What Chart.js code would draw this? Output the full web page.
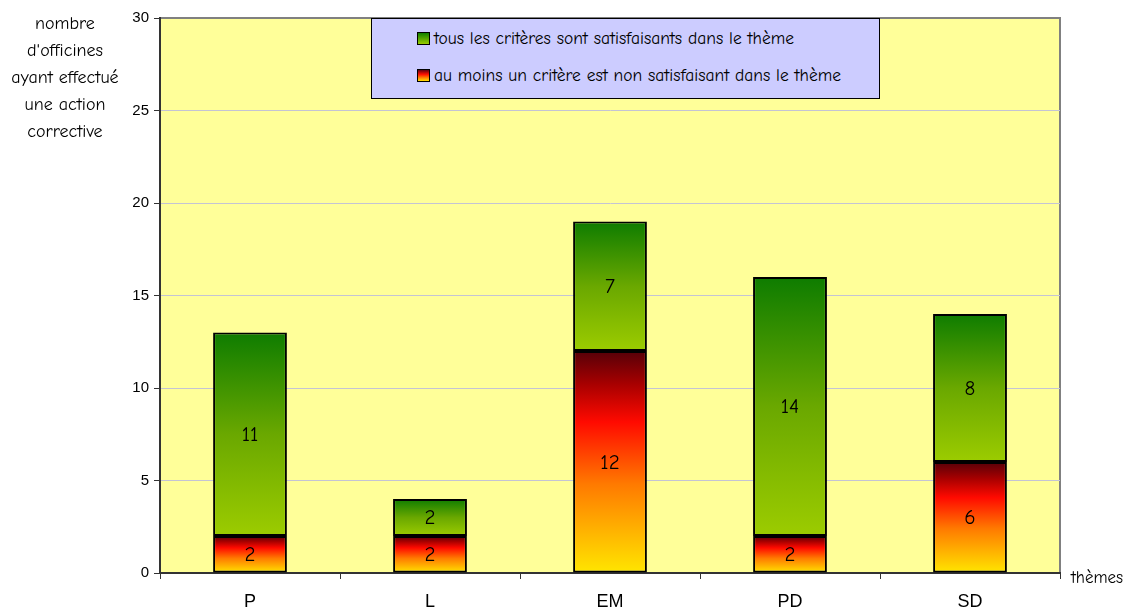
<!DOCTYPE html>
<html lang="fr">
<head>
<meta charset="utf-8">
<title>Actions correctives par thème</title>
<script src="https://cdn.jsdelivr.net/npm/chart.js@4/dist/chart.umd.min.js"></script>
<style>
  html, body { margin: 0; padding: 0; background: #ffffff; }
  #wrap { position: relative; width: 1127px; height: 611px; overflow: hidden; }
  #chart { position: absolute; left: 0; top: 0; }
  .comic { font-family: 'Comic Sans MS', 'Comic Neue', 'DejaVu Sans', sans-serif; color: #000; }
  #ytitle { position: absolute; left: 0; top: 10px; width: 130px; text-align: center; font-size: 18px; line-height: 27px; }
  #xtitle { position: absolute; left: 1071px; top: 568px; font-size: 17px; }
  #legend { position: absolute; left: 371px; top: 18px; width: 509px; height: 81px; background: #ccccff; border: 1px solid #000; box-sizing: border-box; }
  .item { position: absolute; left: 45px; font-size: 17.5px; white-space: nowrap; display: flex; align-items: center; }
  .swatch { width: 11px; height: 11px; border: 1px solid #000; margin-right: 4px; }
  .g { background: linear-gradient(to bottom, #107f00, #99cc00); }
  .r { background: linear-gradient(to bottom, #600010, #ff1000 40%, #ff8000 70%, #ffe000); }
</style>
</head>
<body>
<div id="wrap">
  <canvas id="chart" width="1127" height="611"></canvas>
  <div id="ytitle" class="comic">nombre<br>d'officines<br>ayant effectué<br>une action<br>corrective</div>
  <div id="xtitle" class="comic">thèmes</div>
  <div id="legend" class="comic">
    <div class="item" style="top:9px"><span class="swatch g"></span>tous les critères sont satisfaisants dans le thème</div>
    <div class="item" style="top:46px"><span class="swatch r"></span>au moins un critère est non satisfaisant dans le thème</div>
  </div>
</div>
<script>
// Thèmes et nombres d'officines
const themes = ['P', 'L', 'EM', 'PD', 'SD'];
const auMoinsUnNonSatisfaisant = [2, 2, 12, 2, 6];
const tousSatisfaisants = [11, 2, 7, 14, 8];
const yTicks = [0, 5, 10, 15, 20, 25, 30];

const seriesList = [auMoinsUnNonSatisfaisant, tousSatisfaisants];

const redStops = [[0, '#ffe600'], [0.2, '#ffb000'], [0.4, '#ff7a00'], [0.68, '#ff0a00'], [0.85, '#a80000'], [1, '#560008']];
const greenStops = [[0, '#9ccc00'], [0.5, '#6aa800'], [1, '#0e7c00']];

// Vertical gradient spanning a single stacked segment, light at the bottom, dark at the top
function segmentGradient(stops, fallback) {
  return function (ctx) {
    const chart = ctx.chart;
    if (!chart.chartArea || ctx.type !== 'data') return fallback;
    const y = chart.scales.y;
    let base = 0;
    for (let d = 0; d < ctx.datasetIndex; d++) base += seriesList[d][ctx.dataIndex];
    const v = seriesList[ctx.datasetIndex][ctx.dataIndex];
    const y0 = y.getPixelForValue(base);
    const y1 = y.getPixelForValue(base + v);
    const g = chart.ctx.createLinearGradient(0, y0, 0, y1);
    stops.forEach(s => g.addColorStop(s[0], s[1]));
    return g;
  };
}

// Plot area fill and grey frame
const plotBackground = {
  id: 'plotBackground',
  beforeDraw(chart) {
    const { ctx, chartArea: a } = chart;
    ctx.save();
    ctx.fillStyle = '#ffff99';
    ctx.fillRect(a.left, a.top, a.right - a.left, a.bottom - a.top);
    ctx.strokeStyle = '#808080';
    ctx.lineWidth = 2;
    ctx.beginPath();
    ctx.moveTo(a.left, a.top);
    ctx.lineTo(a.right, a.top);
    ctx.lineTo(a.right, a.bottom);
    ctx.stroke();
    ctx.restore();
  }
};

// Value written in the middle of each segment
const segmentLabels = {
  id: 'segmentLabels',
  afterDatasetsDraw(chart) {
    const ctx = chart.ctx;
    ctx.save();
    ctx.font = "21px 'Comic Sans MS', 'Comic Neue', 'DejaVu Sans', sans-serif";
    ctx.fillStyle = '#000';
    ctx.textAlign = 'center';
    ctx.textBaseline = 'middle';
    chart.data.datasets.forEach((ds, i) => {
      chart.getDatasetMeta(i).data.forEach((el, j) => {
        ctx.fillText(String(ds.data[j]), el.x, (el.y + el.base) / 2 + 1);
      });
    });
    ctx.restore();
  }
};

Chart.defaults.font.family = "'Liberation Sans', Arial, sans-serif";
Chart.defaults.color = '#000';

new Chart(document.getElementById('chart'), {
  type: 'bar',
  data: {
    labels: themes,
    datasets: [
      {
        label: 'au moins un critère est non satisfaisant dans le thème',
        data: auMoinsUnNonSatisfaisant,
        backgroundColor: segmentGradient(redStops, '#ff4000'),
        borderColor: '#000',
        borderWidth: 2,
        borderSkipped: false
      },
      {
        label: 'tous les critères sont satisfaisants dans le thème',
        data: tousSatisfaisants,
        backgroundColor: segmentGradient(greenStops, '#5a9e00'),
        borderColor: '#000',
        borderWidth: 2,
        borderSkipped: false
      }
    ]
  },
  options: {
    responsive: false,
    animation: false,
    layout: { padding: { left: 0, top: 18, right: 67, bottom: 0 } },
    plugins: {
      legend: { display: false },
      tooltip: { enabled: false }
    },
    datasets: { bar: { categoryPercentage: 1, barPercentage: 0.41 } },
    scales: {
      x: {
        stacked: true,
        grid: { drawOnChartArea: false, offset: true, tickLength: 6, color: '#333', tickWidth: 1 },
        border: { color: '#333', width: 2 },
        ticks: { font: { size: 18 }, padding: 12, maxRotation: 0 },
        afterFit(scale) { scale.height = 38; }
      },
      y: {
        stacked: true,
        min: 0,
        max: 30,
        afterBuildTicks(scale) { scale.ticks = yTicks.map(v => ({ value: v })); },
        grid: {
          color: ctx => (ctx.tick && (ctx.tick.value === 0 || ctx.tick.value === 30)) ? 'rgba(0,0,0,0)' : '#c4c4d4',
          tickColor: '#333',
          tickLength: 6,
          lineWidth: 1
        },
        border: { color: '#333', width: 2 },
        ticks: { font: { size: 15 }, padding: 5 },
        afterFit(scale) { scale.width = 160; }
      }
    }
  },
  plugins: [plotBackground, segmentLabels]
});
</script>
</body>
</html>
